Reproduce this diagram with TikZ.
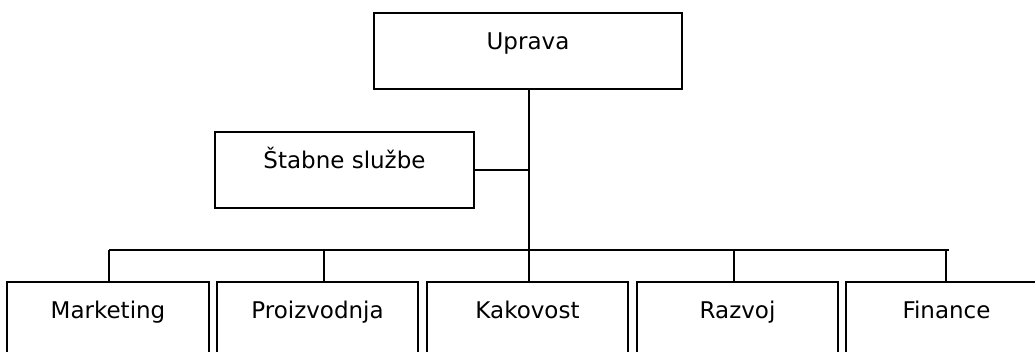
\documentclass[tikz,border=0pt]{standalone}
\usepackage{fontspec}
\setmainfont{DejaVu Sans}
\begin{document}
\begin{tikzpicture}[x=1pt,y=1pt,
  box/.style={draw, line width=1.8pt, inner sep=0pt, font=\fontsize{23}{26}\selectfont,
    text height=37pt, text depth=39pt, anchor=north},
  link/.style={line width=1.8pt}]
\useasboundingbox (0,0) rectangle (1035,352);
\clip (0,0) rectangle (1035,352);
% top management and staff services
\node[box, minimum width=308pt] (uprava) at (528,340) {Uprava};
\node[box, minimum width=259pt] (stab) at (344.5,221) {Štabne službe};
% departments
\node[box, minimum width=202pt, text depth=42pt] (mark) at (108,71) {Marketing};
\node[box, minimum width=201pt, text depth=42pt] (proiz) at (317.5,71) {Proizvodnja};
\node[box, minimum width=201pt, text depth=42pt] (kak) at (527.5,71) {Kakovost};
\node[box, minimum width=201pt, text depth=42pt] (raz) at (737.5,71) {Razvoj};
\node[box, minimum width=201pt, text depth=42pt] (fin) at (946.5,71) {Finance};
% bus line
\coordinate (busL) at (109,102);
\coordinate (busR) at (949,102);
\coordinate (bus) at (529,102);
\draw[link] (uprava.south -| bus) -- (bus);
\draw[link] (stab.east) -- (stab.east -| bus);
\draw[link] (busL) -- (busR);
\draw[link] (busL) -- (busL |- mark.north);
\draw[link] (324,102) coordinate (dP) -- (dP |- proiz.north);
\draw[link] (bus) -- (bus |- kak.north);
\draw[link] (734,102) coordinate (dR) -- (dR |- raz.north);
\draw[link] (946,102) coordinate (dF) -- (dF |- fin.north);
\end{tikzpicture}
\end{document}
